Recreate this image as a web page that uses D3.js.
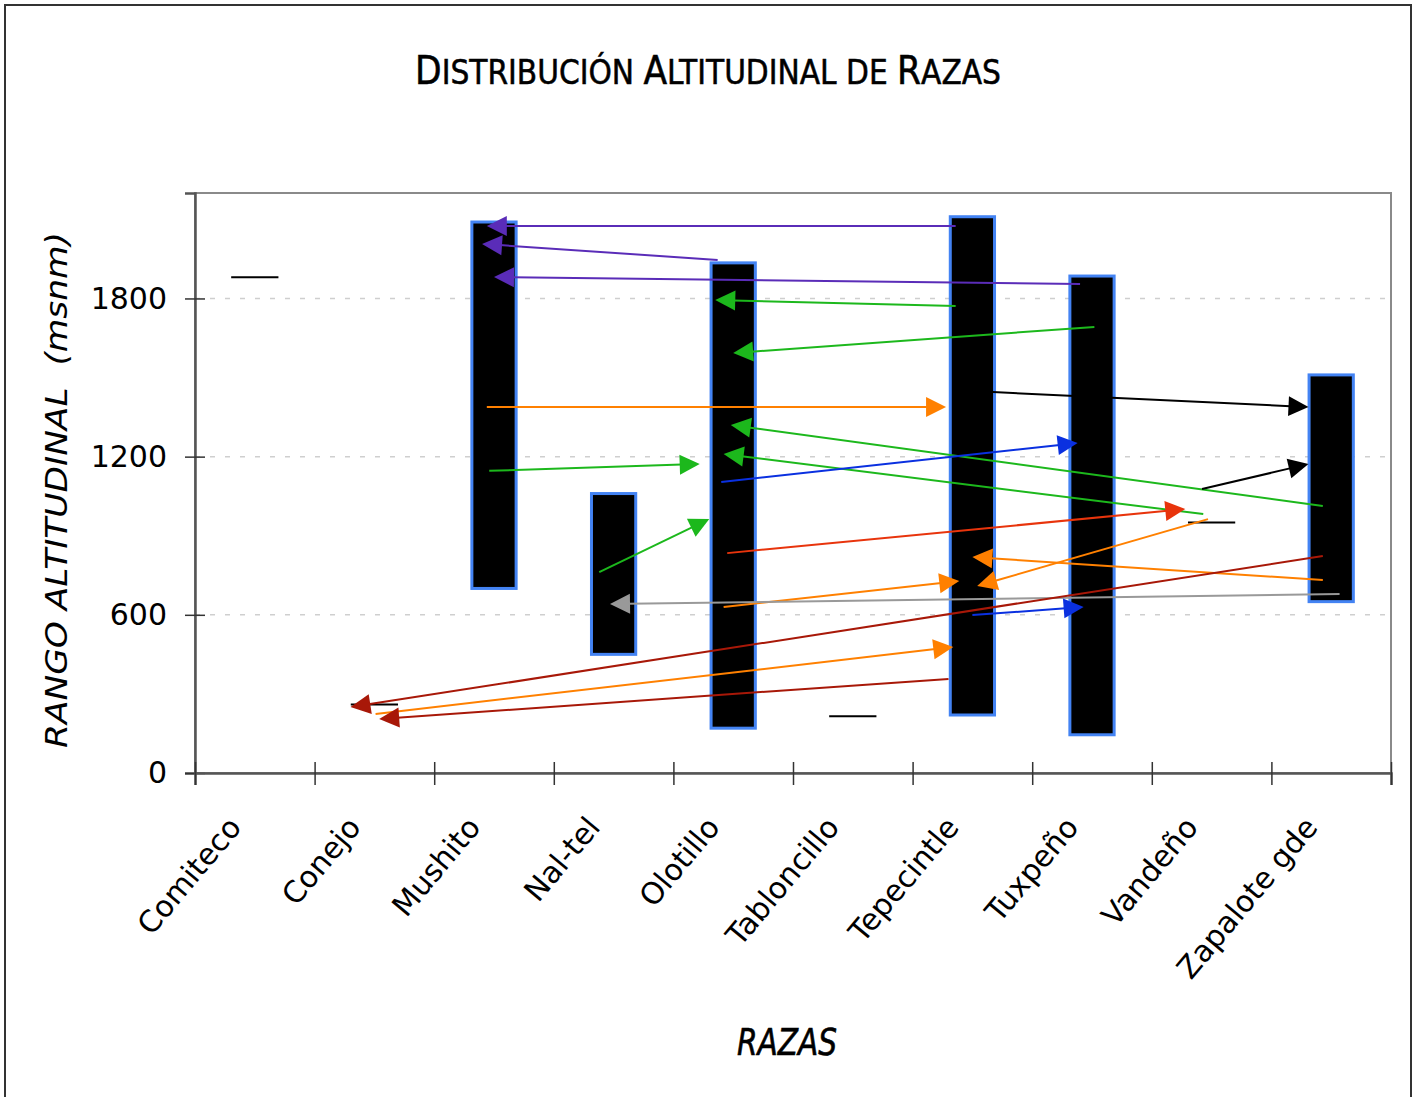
<!DOCTYPE html>
<html>
<head>
<meta charset="utf-8">
<script src="https://cdn.jsdelivr.net/npm/d3@7"></script>
<style>
  html, body { margin: 0; padding: 0; background: #fff; }
  svg { display: block; }
</style>
</head>
<body>
<svg id="chart" width="1418" height="1097"></svg>
<script>
// ---------------- DATA ----------------
const categories = ["Comiteco", "Conejo", "Mushito", "Nal-tel", "Olotillo",
                    "Tabloncillo", "Tepecintle", "Tuxpeño", "Vandeño", "Zapalote gde"];
const minAltitude = [1880, 260, 700, 450, 170, 215, 220, 145, 950, 650];
const maxAltitude = [1880, 260, 2090, 1060, 1935, 215, 2110, 1885, 950, 1510];
const yTickValues = [0, 600, 1200, 1800];

// arrows: [from category position, from altitude, to category position, to altitude]
const arrowSegments = [
  [5.86, 2075, 1.94, 2075],
  [3.87, 1946, 1.90, 2007],
  [6.90, 1855, 2.00, 1881],
  [5.86, 1771, 3.85, 1794],
  [7.02, 1692, 4.00, 1593],
  [1.94, 1388, 5.78, 1388],
  [6.17, 1445, 8.81, 1388],
  [8.93, 1013, 3.98, 1320],
  [7.93, 982, 3.92, 1210],
  [1.96, 1146, 3.72, 1172],
  [3.90, 1104, 6.88, 1252],
  [7.92, 1077, 8.81, 1172],
  [2.88, 762, 3.80, 963],
  [3.95, 834, 7.78, 1001],
  [7.97, 963, 6.04, 709],
  [8.93, 732, 6.00, 819],
  [3.92, 630, 5.89, 728],
  [9.07, 679, 2.97, 641],
  [6.00, 599, 6.93, 630],
  [8.93, 823, 0.80, 250],
  [1.01, 224, 5.84, 478],
  [5.80, 357, 1.04, 205]
];
const arrowColors = [
  "#5a2cb8", "#5a2cb8", "#5a2cb8", "#1cb81c", "#1cb81c", "#ff8000", "#000000",
  "#1cb81c", "#1cb81c", "#1cb81c", "#0a30e0", "#000000", "#1cb81c", "#e8340c",
  "#ff8000", "#ff8000", "#ff8000", "#999999", "#0a30e0", "#a81808", "#ff8000", "#a81808"
];

// ---------------- LAYOUT ----------------
const svg = d3.select("#chart");
const L = 195, R = 1391, T = 193, B = 773;

const x = d3.scaleBand().domain(categories).range([L, R]).padding(0);
const xPos = d3.scaleLinear().domain([-0.5, categories.length - 0.5]).range([L, R]);
const y = d3.scaleLinear().domain([0, 2200]).range([B, T]);
const barW = x.bandwidth() * 0.37;

// outer border
svg.append("rect").attr("x", 5).attr("y", 5).attr("width", 1406).attr("height", 1110)
  .attr("fill", "#fff").attr("stroke", "#333").attr("stroke-width", 2);

// title (small caps built from two sizes, scaled to fit the reference width)
const title = svg.append("text")
  .attr("x", 708).attr("y", 84)
  .attr("text-anchor", "middle")
  .attr("font-family", "'Liberation Sans Narrow', 'DejaVu Sans Condensed', 'Liberation Sans', sans-serif")
  .attr("fill", "#000").attr("stroke", "#000").attr("stroke-width", 0.5)
  .style("white-space", "pre");
const titleParts = [["D", 1], ["ISTRIBUCIÓN ", 0.86], ["A", 1], ["LTITUDINAL DE ", 0.86], ["R", 1], ["AZAS", 0.86]];
const spans = titleParts.map(([t, s]) => title.append("tspan").attr("font-size", 44 * s).text(t));
const w0 = title.node().getComputedTextLength();
const k = 586 / w0;
spans.forEach((sp, i) => sp.attr("font-size", 44 * titleParts[i][1] * Math.min(k, 1.15)));

// plot frame
svg.append("rect").attr("x", L).attr("y", T).attr("width", R - L).attr("height", B - T)
  .attr("fill", "none").attr("stroke", "#8a8a8a").attr("stroke-width", 2);

// gridlines
svg.append("g").selectAll("line").data(yTickValues.filter(d => d > 0)).join("line")
  .attr("x1", L).attr("x2", R).attr("y1", d => y(d)).attr("y2", d => y(d))
  .attr("stroke", "#cfcfcf").attr("stroke-width", 1.5).attr("stroke-dasharray", "5,10");

// bars (ranges)
const ranged = categories.map((c, i) => ({c, lo: minAltitude[i], hi: maxAltitude[i]}));
svg.append("g").selectAll("rect").data(ranged.filter(d => d.hi > d.lo)).join("rect")
  .attr("x", d => x(d.c) + x.bandwidth() / 2 - barW / 2)
  .attr("width", barW)
  .attr("y", d => y(d.hi))
  .attr("height", d => y(d.lo) - y(d.hi))
  .attr("fill", "#000").attr("stroke", "#4383f3").attr("stroke-width", 3);

// single-value marks
svg.append("g").selectAll("line").data(ranged.filter(d => d.hi === d.lo)).join("line")
  .attr("x1", d => x(d.c) + x.bandwidth() / 2 - barW / 2 - 1.5)
  .attr("x2", d => x(d.c) + x.bandwidth() / 2 + barW / 2 + 1.5)
  .attr("y1", d => y(d.hi)).attr("y2", d => y(d.hi))
  .attr("stroke", "#000").attr("stroke-width", 2);

// arrows
const HL = 20, HW = 10;
const ag = svg.append("g");
arrowSegments.forEach((a, i) => {
  const x1 = xPos(a[0]), y1 = y(a[1]), x2 = xPos(a[2]), y2 = y(a[3]);
  const dx = x2 - x1, dy = y2 - y1, len = Math.hypot(dx, dy);
  const ux = dx / len, uy = dy / len;
  const bx = x2 - ux * HL, by = y2 - uy * HL;
  ag.append("line").attr("x1", x1).attr("y1", y1).attr("x2", bx + ux * 2).attr("y2", by + uy * 2)
    .attr("stroke", arrowColors[i]).attr("stroke-width", 2);
  ag.append("polygon")
    .attr("points", [[x2, y2], [bx - uy * HW, by + ux * HW], [bx + uy * HW, by - ux * HW]].map(p => p.join(",")).join(" "))
    .attr("fill", arrowColors[i]);
});

// y axis
const yAxis = svg.append("g").attr("transform", `translate(${L},0)`)
  .call(d3.axisLeft(y).tickValues(yTickValues).tickSize(10).tickPadding(18).tickFormat(d3.format("d")));
yAxis.select(".domain").attr("stroke", "#555").attr("stroke-width", 2.5);
yAxis.selectAll(".tick line").attr("x1", 10).attr("stroke", "#333").attr("stroke-width", 1.5);
yAxis.selectAll(".tick text").attr("font-family", "'DejaVu Sans', sans-serif").attr("font-size", 30)
  .attr("fill", "#000");

// x axis
const xAxis = svg.append("g").attr("transform", `translate(0,${B})`)
  .call(d3.axisBottom(xPos).tickValues(d3.range(-0.5, categories.length, 1)).tickSize(12).tickFormat(""));
xAxis.select(".domain").attr("stroke", "#555").attr("stroke-width", 2.5);
xAxis.selectAll(".tick line").attr("y1", -11).attr("stroke", "#333").attr("stroke-width", 1.5);

// x labels
svg.append("g").selectAll("text").data(categories).join("text")
  .attr("transform", d => `translate(${x(d) + x.bandwidth() / 2 - 12},${B + 55}) rotate(-50)`)
  .attr("text-anchor", "end")
  .attr("font-family", "'DejaVu Sans', sans-serif").attr("font-size", 30)
  .attr("fill", "#000")
  .text(d => d);

// axis titles
svg.append("text")
  .attr("transform", `translate(67,490) rotate(-90)`)
  .attr("text-anchor", "middle")
  .attr("font-family", "'DejaVu Sans', sans-serif").attr("font-style", "italic").attr("font-size", 30)
  .attr("textLength", 516).attr("lengthAdjust", "spacingAndGlyphs")
  .style("white-space", "pre")
  .text("RANGO ALTITUDINAL  (msnm)");

svg.append("text")
  .attr("x", 787).attr("y", 1055)
  .attr("text-anchor", "middle")
  .attr("font-family", "'Liberation Sans Narrow', 'DejaVu Sans Condensed', sans-serif").attr("font-style", "italic")
  .attr("font-size", 37).attr("stroke", "#000").attr("stroke-width", 0.6)
  .attr("textLength", 100).attr("lengthAdjust", "spacingAndGlyphs")
  .text("RAZAS");
</script>
</body>
</html>
